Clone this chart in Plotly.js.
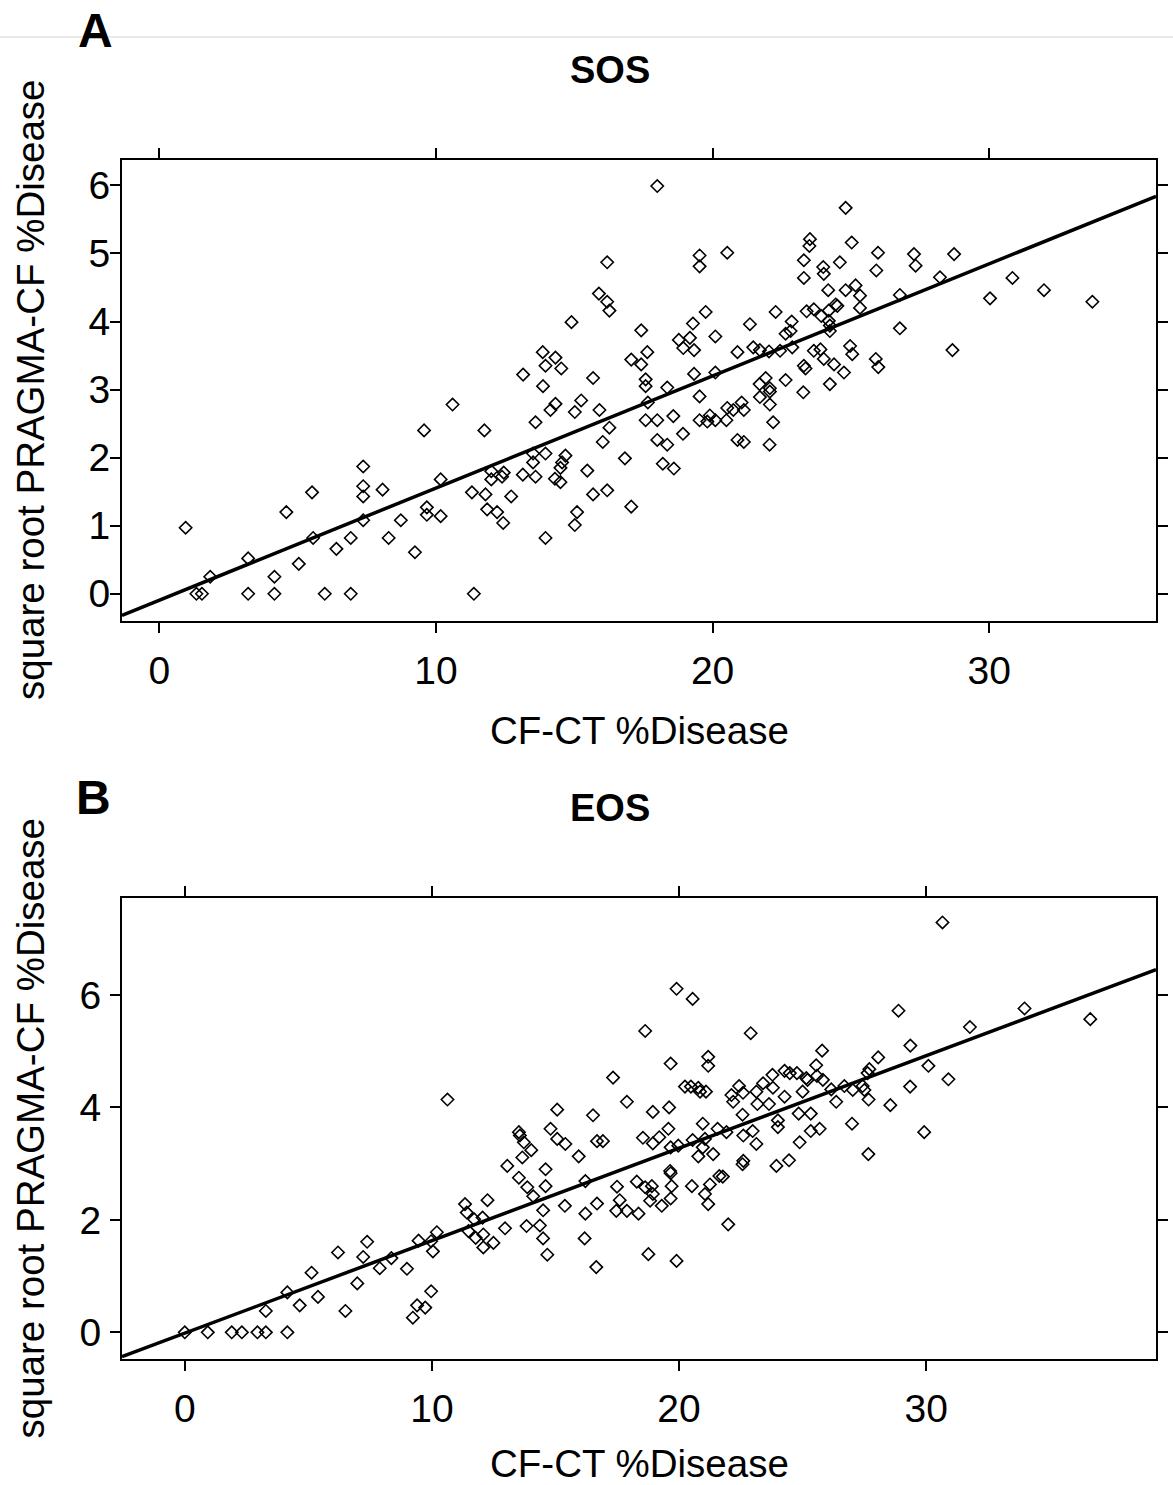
<!DOCTYPE html>
<html><head><meta charset="utf-8">
<script src="https://cdn.plot.ly/plotly-3.0.1.min.js"></script>
<style>html,body{margin:0;padding:0;background:#fff;} #chart{width:1173px;height:1485px;}</style>
</head><body><div id="chart"></div>
<script>
// Panel A (SOS)
const sosX = [0.95,1.84,1.34,1.54,3.21,3.21,4.16,4.16,4.59,5.04,5.52,5.56,5.98,6.40,6.92,6.92,7.37,7.37,7.37,7.37,8.07,8.29,8.73,9.24,9.57,9.67,9.67,10.17,10.17,10.60,11.30,11.37,
11.75,13.60,14.14,14.32,15.02,15.25,15.91,16.27,16.03,17.58,18.00,17.66,18.58,19.53,18.93,18.00,18.36,16.83,18.20,18.60,19.53,19.81,19.90,20.10,20.50,20.53,20.75,21.05,21.13,20.90,21.13,21.71,22.07,22.07,22.19,22.06,23.28,
12.00,12.00,12.39,12.45,11.79,11.85,12.21,12.43,12.72,13.14,13.51,13.51,13.60,13.96,14.30,14.50,14.50,14.56,14.68,15.47,15.68,16.19,15.10,15.02,17.06,13.96,
18.00,16.19,15.89,16.19,16.27,19.53,19.53,20.53,23.30,23.30,23.50,23.52,23.40,14.90,17.42,19.75,19.29,22.28,21.35,22.86,22.64,22.82,22.88,20.10,18.78,19.18,18.94,19.33,17.64,17.06,17.42,17.58,17.58,18.36,19.33,20.10,20.90,21.47,21.71,22.04,22.44,21.70,21.92,22.07,22.64,23.30,23.36,13.86,14.32,13.96,14.53,13.15,13.87,15.68,
24.81,25.03,25.98,27.28,27.34,28.73,24.00,24.02,24.60,25.92,28.22,30.84,24.18,24.81,25.17,25.33,25.33,26.77,30.03,31.98,33.73,23.66,23.93,24.20,24.45,24.51,24.20,24.24,24.24,26.77,24.97,25.05,23.66,23.90,24.02,24.39,24.75,25.90,25.99,28.67,24.24];
const sosY = [0.97,0.25,0.00,0.00,0.52,0.00,0.25,0.00,1.20,0.44,1.49,0.82,0.00,0.66,0.82,0.00,1.87,1.58,1.43,1.08,1.53,0.82,1.08,0.61,2.40,1.27,1.16,1.68,1.14,2.78,1.49,0.00,
2.40,2.52,2.70,2.79,2.67,2.84,2.70,2.44,2.23,2.55,2.55,2.81,2.61,2.90,2.35,2.26,2.19,1.99,1.91,1.84,2.55,2.53,2.62,2.55,2.55,2.73,2.70,2.81,2.70,2.26,2.23,2.89,2.78,2.97,2.52,2.19,2.96,
1.80,1.68,1.72,1.78,1.46,1.24,1.20,1.04,1.43,1.75,2.06,1.93,1.72,2.06,1.69,1.64,1.85,1.93,2.03,1.81,1.46,1.52,1.20,1.01,1.28,0.82,
5.99,4.87,4.41,4.29,4.16,4.97,4.81,5.01,4.90,4.64,5.11,5.21,4.15,3.99,3.87,4.14,3.97,4.14,3.96,4.00,3.82,3.86,3.62,3.78,3.73,3.76,3.61,3.58,3.55,3.44,3.37,3.15,3.05,3.03,3.23,3.25,3.55,3.62,3.58,3.56,3.57,3.08,3.17,3.02,3.14,3.35,3.31,3.55,3.47,3.35,3.31,3.22,3.05,3.17,
5.67,5.16,5.01,4.99,4.82,4.99,4.80,4.70,4.87,4.75,4.65,4.64,4.46,4.46,4.53,4.38,4.20,4.39,4.34,4.46,4.29,4.18,4.08,4.16,4.25,4.23,4.01,3.94,3.86,3.90,3.64,3.52,3.57,3.59,3.45,3.37,3.25,3.45,3.33,3.58,3.08];

// Panel B (EOS)
const eosX = [0.00,0.93,1.90,2.31,2.94,3.28,4.15,3.28,4.15,4.65,5.13,5.39,6.20,6.50,6.98,7.22,7.38,7.89,8.36,8.99,9.46,9.97,9.23,9.40,9.73,9.97,10.04,10.20,11.34,11.41,11.48,10.63,
19.90,20.55,18.63,22.90,19.66,21.18,21.18,17.33,23.78,24.27,24.48,24.77,25.15,23.40,20.24,20.48,20.78,20.85,21.09,22.43,22.12,22.59,22.19,23.13,23.80,24.27,25.00,25.20,23.17,23.64,17.89,15.07,16.52,18.94,19.60,22.57,24.84,20.96,24.00,24.00,14.80,13.52,19.57,21.56,
30.66,28.88,33.98,36.64,31.77,29.36,25.79,28.06,25.55,30.09,30.90,27.70,27.63,25.58,25.82,26.16,26.69,27.03,27.43,27.50,26.36,27.67,29.35,28.55,25.33,27.00,29.92,25.69,25.33,24.88,27.66,
13.56,13.72,14.02,13.66,15.07,15.40,15.94,16.68,16.92,13.05,14.60,13.52,13.86,14.10,14.60,12.25,11.71,12.05,11.77,12.08,12.08,12.49,12.96,13.83,14.37,14.50,14.67,14.50,15.38,16.21,16.21,16.68,16.18,16.65,17.49,17.60,17.46,17.89,18.36,18.29,18.63,18.90,18.94,18.83,19.30,19.66,19.70,19.64,19.66,18.54,18.94,19.20,19.66,19.97,20.55,20.52,21.05,20.96,20.78,21.38,21.92,21.05,21.18,21.25,21.63,21.77,21.99,22.57,22.60,22.60,22.98,23.13,23.94,24.45,18.76,19.90];
const eosY = [0.00,0.00,0.00,0.00,0.00,0.00,0.00,0.38,0.71,0.48,1.06,0.63,1.42,0.38,0.87,1.34,1.61,1.14,1.32,1.13,1.63,0.73,0.26,0.48,0.44,1.62,1.44,1.78,2.28,2.13,1.80,4.14,
6.11,5.93,5.36,5.32,4.78,4.90,4.74,4.53,4.58,4.65,4.61,4.61,4.52,4.43,4.37,4.37,4.35,4.28,4.28,4.38,4.22,4.26,4.10,4.28,4.35,4.19,4.28,4.49,4.06,4.06,4.10,3.96,3.86,3.92,4.00,3.87,3.89,3.71,3.77,3.65,3.62,3.56,3.62,3.62,
7.29,5.72,5.76,5.57,5.43,5.10,5.01,4.89,4.75,4.74,4.50,4.68,4.61,4.56,4.49,4.32,4.38,4.31,4.38,4.31,4.10,4.14,4.37,4.04,3.89,3.71,3.56,3.62,3.58,3.38,3.17,
3.50,3.38,3.24,3.11,3.44,3.35,3.13,3.40,3.40,2.96,2.90,2.75,2.58,2.42,2.60,2.35,2.01,2.04,1.68,1.74,1.51,1.59,1.85,1.89,1.90,1.67,1.38,2.17,2.25,2.69,2.11,2.29,1.67,1.16,2.59,2.35,2.16,2.16,2.11,2.68,2.58,2.60,2.46,2.34,2.25,2.38,2.60,2.87,2.83,3.46,3.36,3.47,3.29,3.32,3.42,2.60,3.44,3.29,3.13,3.17,3.56,2.46,2.28,2.63,2.78,2.77,1.92,2.99,3.05,3.50,3.58,3.35,2.96,3.06,1.39,1.27];

const xTickVals = [0, 10, 20, 30];
const sosYTickVals = [0, 1, 2, 3, 4, 5, 6];
const eosYTickVals = [0, 2, 4, 6];
const sosFit = [-0.094, 0.1647];   // intercept, slope
const eosFit = [-0.015, 0.1645];
const panelLetters = ['A', 'B'];
const panelTitles = ['SOS', 'EOS'];
const xLabel = 'CF-CT %Disease';
const yLabel = 'square root PRAGMA-CF %Disease';

const W = 1173, H = 1485;
const px = v => v / W;
const py = v => 1 - v / H;

const sosXRange = [-1.35, 36.03], sosYRange = [-0.40, 6.38];
const eosXRange = [-2.54, 39.30], eosYRange = [-0.48, 7.73];

const FONT = 'Liberation Sans, Arial, Helvetica, sans-serif';
const marker = {symbol: 'diamond-open', size: 9.5, color: '#000', line: {color: '#000', width: 1.6}};

function fitLine(range, fit, xa, ya) {
  const xs = [range[0], range[1]];
  return {x: xs, y: xs.map(v => fit[0] + fit[1] * v), mode: 'lines', xaxis: xa, yaxis: ya,
          line: {color: '#000', width: 3.5}, hoverinfo: 'skip'};
}

const data = [
  {x: sosX, y: sosY, mode: 'markers', type: 'scatter', marker: marker, xaxis: 'x', yaxis: 'y'},
  fitLine(sosXRange, sosFit, 'x', 'y'),
  {x: eosX, y: eosY, mode: 'markers', type: 'scatter', marker: marker, xaxis: 'x2', yaxis: 'y2'},
  fitLine(eosXRange, eosFit, 'x2', 'y2')
];

function axis(extra) {
  return Object.assign({
    showline: true, linecolor: '#000', linewidth: 2, mirror: 'ticks',
    ticks: 'outside', ticklen: 10, tickwidth: 2, tickcolor: '#000',
    showgrid: false, zeroline: false, tickmode: 'array',
    tickfont: {family: FONT, size: 39, color: '#000'}, fixedrange: true
  }, extra);
}

const layout = {
  width: W, height: H, margin: {l: 0, r: 0, t: 0, b: 0},
  paper_bgcolor: '#fff', plot_bgcolor: '#fff', showlegend: false,
  xaxis: axis({domain: [px(122), px(1156)], range: sosXRange, tickvals: xTickVals, anchor: 'y', ticklabelstandoff: 4}),
  yaxis: axis({domain: [py(621), py(159.5)], range: sosYRange, tickvals: sosYTickVals, anchor: 'x', ticklabelstandoff: -8}),
  xaxis2: axis({domain: [px(122), px(1156)], range: eosXRange, tickvals: xTickVals, anchor: 'y2', ticklabelstandoff: 4}),
  yaxis2: axis({domain: [py(1359.3), py(897.7)], range: eosYRange, tickvals: eosYTickVals, anchor: 'x2', ticklabelstandoff: 1}),
  shapes: [
    {type: 'line', xref: 'paper', yref: 'paper', x0: 0, x1: 1, y0: py(37), y1: py(37), line: {color: '#d4d4d4', width: 1}}
  ],
  annotations: [
    {text: '<b>' + panelLetters[0] + '</b>', x: px(95), y: py(30), xref: 'paper', yref: 'paper', showarrow: false, xanchor: 'center', yanchor: 'middle', font: {family: FONT, size: 48, color: '#000'}},
    {text: '<b>' + panelLetters[1] + '</b>', x: px(93), y: py(797), xref: 'paper', yref: 'paper', showarrow: false, xanchor: 'center', yanchor: 'middle', font: {family: FONT, size: 48, color: '#000'}},
    {text: '<b>' + panelTitles[0] + '</b>', x: px(610), y: py(70), xref: 'paper', yref: 'paper', showarrow: false, xanchor: 'center', yanchor: 'middle', font: {family: FONT, size: 38, color: '#000'}},
    {text: '<b>' + panelTitles[1] + '</b>', x: px(610), y: py(808), xref: 'paper', yref: 'paper', showarrow: false, xanchor: 'center', yanchor: 'middle', font: {family: FONT, size: 38, color: '#000'}},
    {text: xLabel, x: px(639), y: py(730), xref: 'paper', yref: 'paper', showarrow: false, xanchor: 'center', yanchor: 'middle', font: {family: FONT, size: 38.5, color: '#000'}},
    {text: xLabel, x: px(639), y: py(1463), xref: 'paper', yref: 'paper', showarrow: false, xanchor: 'center', yanchor: 'middle', font: {family: FONT, size: 38.5, color: '#000'}},
    {text: yLabel, x: px(30), y: py(390), xref: 'paper', yref: 'paper', showarrow: false, textangle: -90, xanchor: 'center', yanchor: 'middle', font: {family: FONT, size: 38.5, color: '#000'}},
    {text: yLabel, x: px(30), y: py(1128.5), xref: 'paper', yref: 'paper', showarrow: false, textangle: -90, xanchor: 'center', yanchor: 'middle', font: {family: FONT, size: 38.5, color: '#000'}}
  ]
};

Plotly.newPlot('chart', data, layout, {staticPlot: true, displayModeBar: false});
</script>
</body></html>
